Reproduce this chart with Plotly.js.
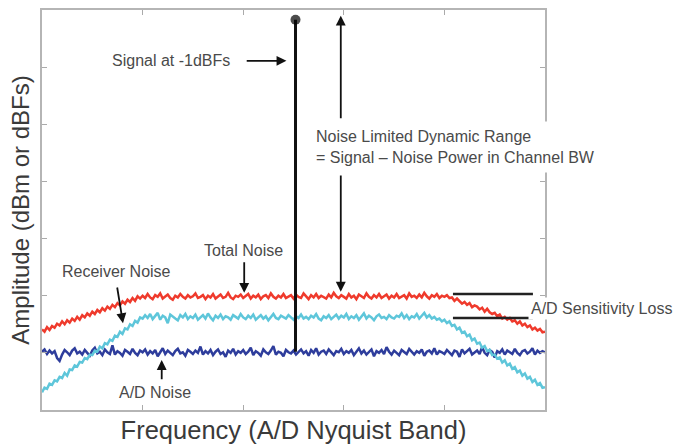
<!DOCTYPE html>
<html>
<head>
<meta charset="utf-8">
<script src="https://cdn.plot.ly/plotly-3.0.1.min.js"></script>
<style>html,body{margin:0;padding:0;background:#fff;}#chart{width:676px;height:445px;}</style>
</head>
<body>
<div id="chart"></div>
<script>
// Frequency bins across the A/D Nyquist band (arbitrary units 0..5)
const freq = [
0,0.025,0.05,0.075,0.1,0.125,0.15,0.175,0.2,0.225,0.25,0.275,0.3,0.325,0.35,0.375,0.4,0.425,0.45,0.475,
0.5,0.525,0.55,0.575,0.6,0.625,0.65,0.675,0.7,0.725,0.75,0.775,0.8,0.825,0.85,0.875,0.9,0.925,0.95,0.975,
1,1.025,1.05,1.075,1.1,1.125,1.15,1.175,1.2,1.225,1.25,1.275,1.3,1.325,1.35,1.375,1.4,1.425,1.45,1.475,
1.5,1.525,1.55,1.575,1.6,1.625,1.65,1.675,1.7,1.725,1.75,1.775,1.8,1.825,1.85,1.875,1.9,1.925,1.95,1.975,
2,2.025,2.05,2.075,2.1,2.125,2.15,2.175,2.2,2.225,2.25,2.275,2.3,2.325,2.35,2.375,2.4,2.425,2.45,2.475,
2.5,2.525,2.55,2.575,2.6,2.625,2.65,2.675,2.7,2.725,2.75,2.775,2.8,2.825,2.85,2.875,2.9,2.925,2.95,2.975,
3,3.025,3.05,3.075,3.1,3.125,3.15,3.175,3.2,3.225,3.25,3.275,3.3,3.325,3.35,3.375,3.4,3.425,3.45,3.475,
3.5,3.525,3.55,3.575,3.6,3.625,3.65,3.675,3.7,3.725,3.75,3.775,3.8,3.825,3.85,3.875,3.9,3.925,3.95,3.975,
4,4.025,4.05,4.075,4.1,4.125,4.15,4.175,4.2,4.225,4.25,4.275,4.3,4.325,4.35,4.375,4.4,4.425,4.45,4.475,
4.5,4.525,4.55,4.575,4.6,4.625,4.65,4.675,4.7,4.725,4.75,4.775,4.8,4.825,4.85,4.875,4.9,4.925,4.95,4.975,
5];

// A/D noise (blue)
const adNoise = [
1.02,1.06,0.98,1.04,0.99,1.03,0.91,0.86,0.97,1.05,1.01,0.96,1.04,1.08,0.99,1.02,0.97,1.05,1.00,0.95,
1.04,1.09,0.99,1.02,0.96,1.06,1.01,0.98,1.13,0.97,1.03,1.00,0.95,1.05,1.02,0.98,1.07,1.00,0.96,1.04,
1.01,1.06,0.97,1.03,0.99,1.05,0.94,1.02,1.08,0.98,1.04,1.00,0.96,1.03,1.07,0.99,1.01,0.95,1.05,1.02,
0.98,1.04,1.00,1.11,0.97,1.03,0.99,1.05,0.96,1.02,1.06,0.98,1.01,0.93,1.04,1.00,1.07,0.97,1.03,1.00,
1.05,0.98,1.02,1.09,0.96,1.03,1.00,0.95,1.06,1.01,0.98,1.04,1.12,0.97,1.02,1.00,0.94,1.05,1.01,0.99,
1.04,0.97,1.02,1.06,0.99,1.03,0.95,1.05,1.00,1.08,0.97,1.02,1.04,0.98,1.06,1.00,0.96,1.03,1.01,1.07,
0.98,1.03,1.00,1.05,0.96,1.02,1.08,0.99,1.04,0.97,1.01,1.06,0.94,1.03,1.00,1.05,0.98,1.10,1.02,0.97,
1.04,1.00,0.96,1.05,1.02,0.98,1.07,1.01,0.97,1.03,1.00,1.06,0.95,1.02,1.04,0.99,1.08,0.97,1.03,1.01,
0.98,1.05,1.00,0.96,1.04,1.02,0.93,1.06,0.99,1.03,1.07,0.97,1.01,1.04,0.98,1.10,1.00,0.96,1.05,1.02,
0.92,1.03,1.00,1.06,0.97,1.04,1.01,0.98,1.07,1.00,0.96,1.03,1.05,0.99,1.02,1.08,0.97,1.04,1.00,1.03,
1.01];

// Receiver noise (cyan)
const rxNoise = [
0.31,0.39,0.37,0.46,0.44,0.52,0.50,0.58,0.56,0.65,0.60,0.71,0.70,0.78,0.76,0.84,0.83,0.91,0.89,0.97,
0.96,1.04,1.02,1.11,1.08,1.17,1.15,1.23,1.21,1.30,1.28,1.37,1.33,1.43,1.41,1.50,1.47,1.56,1.53,1.62,
1.60,1.66,1.61,1.68,1.59,1.64,1.70,1.58,1.65,1.62,1.52,1.67,1.63,1.60,1.57,1.66,1.62,1.68,1.59,1.64,
1.61,1.67,1.58,1.63,1.66,1.60,1.69,1.62,1.57,1.65,1.61,1.67,1.59,1.64,1.62,1.58,1.66,1.63,1.60,1.68,
1.62,1.59,1.65,1.61,1.67,1.58,1.63,1.66,1.60,1.64,1.57,1.62,1.68,1.61,1.59,1.65,1.63,1.60,1.66,1.62,
1.58,1.64,1.61,1.67,1.60,1.63,1.59,1.65,1.62,1.68,1.60,1.57,1.64,1.61,1.66,1.59,1.63,1.67,1.60,1.65,
1.62,1.68,1.59,1.64,1.61,1.66,1.58,1.63,1.69,1.60,1.65,1.62,1.57,1.64,1.67,1.61,1.63,1.59,1.66,1.62,
1.60,1.65,1.63,1.69,1.61,1.66,1.59,1.64,1.62,1.68,1.60,1.65,1.70,1.62,1.66,1.60,1.63,1.58,1.60,1.55,
1.58,1.52,1.55,1.47,1.49,1.41,1.44,1.35,1.37,1.29,1.32,1.22,1.25,1.16,1.18,1.09,1.12,1.03,1.05,0.96,
0.97,0.90,0.92,0.83,0.87,0.78,0.81,0.72,0.75,0.66,0.69,0.60,0.64,0.55,0.58,0.49,0.53,0.44,0.47,0.39,
0.40];

// Total noise (red)
const totalNoise = [
1.41,1.37,1.45,1.40,1.47,1.44,1.51,1.48,1.55,1.50,1.57,1.53,1.60,1.56,1.63,1.58,1.66,1.62,1.69,1.65,
1.72,1.68,1.75,1.71,1.78,1.74,1.81,1.77,1.84,1.80,1.87,1.83,1.90,1.86,1.93,1.89,1.96,1.91,1.99,1.95,
2.00,1.96,2.03,1.97,1.94,2.01,1.98,2.04,1.95,1.99,2.02,1.96,1.93,2.00,1.97,2.03,1.98,1.95,2.01,1.97,
1.99,2.04,1.96,1.98,2.01,1.94,2.00,1.97,2.03,1.95,1.99,2.02,1.96,1.98,2.05,1.97,1.94,2.00,1.98,2.02,
1.96,1.99,2.03,1.95,2.00,1.97,2.02,1.94,1.99,2.01,1.96,2.04,1.98,1.95,2.00,1.97,2.03,1.96,1.99,2.01,
1.95,2.02,1.98,1.96,2.04,1.99,1.94,2.01,1.97,2.03,1.96,2.00,1.98,1.95,2.02,1.97,2.05,1.99,1.96,2.01,
1.98,1.95,2.03,1.97,2.00,1.94,2.02,1.99,1.96,2.04,1.98,1.95,2.01,1.97,2.03,1.96,1.99,2.02,1.95,2.00,
1.97,2.03,1.96,1.99,2.01,1.95,2.04,1.98,2.00,1.96,2.02,1.97,2.05,1.99,1.95,2.01,1.98,2.03,1.96,2.00,
1.98,2.01,1.96,1.97,1.91,1.95,1.90,1.86,1.89,1.84,1.87,1.80,1.83,1.81,1.76,1.79,1.72,1.77,1.71,1.68,
1.70,1.64,1.67,1.60,1.63,1.58,1.61,1.55,1.57,1.51,1.55,1.48,1.51,1.45,1.48,1.41,1.44,1.39,1.42,1.36,
1.37];

// Signal tone at -1 dBFS
const signalFreq = [2.52, 2.52];
const signalLevel = [1.02, 6.83];

const txt = '#4a4a4a';
const annFont = {family: 'Liberation Sans, Arial, sans-serif', size: 16, color: txt};

function arrow(x, y, ax, ay) {
  return {x: x, y: y, ax: ax, ay: ay, xref: 'x', yref: 'y', axref: 'x', ayref: 'y',
    text: '', showarrow: true, arrowhead: 2, arrowsize: 1.1, arrowwidth: 1.8, arrowcolor: '#111'};
}
function label(t, x, y, xa, extra) {
  return Object.assign({x: x, y: y, xref: 'x', yref: 'y', text: t, showarrow: false,
    xanchor: xa || 'center', yanchor: 'middle', font: annFont}, extra || {});
}

const traces = [
  {x: freq, y: adNoise, type: 'scatter', mode: 'lines', line: {color: '#2e3d9c', width: 2.5}, hoverinfo: 'skip'},
  {x: freq, y: rxNoise, type: 'scatter', mode: 'lines', line: {color: '#5ec6da', width: 2.5}, hoverinfo: 'skip'},
  {x: freq, y: totalNoise, type: 'scatter', mode: 'lines', line: {color: '#ef3a2c', width: 2.5}, hoverinfo: 'skip'},
  {x: signalFreq, y: signalLevel, type: 'scatter', mode: 'lines+markers',
   line: {color: '#111', width: 3}, marker: {color: '#000', size: [0, 10], line: {width: 0}}, hoverinfo: 'skip'}
];

const layout = {
  width: 676, height: 445,
  margin: {l: 42, r: 131, t: 10, b: 35},
  paper_bgcolor: '#fff', plot_bgcolor: '#fff',
  showlegend: false,
  font: {family: 'Liberation Sans, Arial, sans-serif', color: txt},
  xaxis: {
    range: [0, 5], tickvals: [1, 2, 3, 4], showticklabels: false,
    ticks: 'inside', ticklen: 5, tickcolor: '#aaa', tickwidth: 1,
    showline: true, linecolor: '#b5b5b5', linewidth: 2, mirror: 'ticks',
    showgrid: false, zeroline: false,
    title: {text: 'Frequency (A/D Nyquist Band)', font: {size: 25.5, color: '#3a3a3a'}, standoff: 10}
  },
  yaxis: {
    range: [0, 7], tickvals: [1, 2, 3, 4, 5, 6], showticklabels: false,
    ticks: 'inside', ticklen: 5, tickcolor: '#aaa', tickwidth: 1,
    showline: true, linecolor: '#b5b5b5', linewidth: 2, mirror: 'ticks',
    showgrid: false, zeroline: false,
    title: {text: 'Amplitude (dBm or dBFs)', font: {size: 24, color: '#3a3a3a'}, standoff: 4}
  },
  shapes: [
    {type: 'line', xref: 'x', yref: 'y', x0: 4.085, x1: 4.88, y0: 2.03, y1: 2.03, line: {color: '#222', width: 2.5}},
    {type: 'line', xref: 'x', yref: 'y', x0: 4.085, x1: 4.88, y0: 1.61, y1: 1.61, line: {color: '#222', width: 2.5}}
  ],
  annotations: [
    label('Signal at -1dBFs', 1.28, 6.11),
    arrow(2.43, 6.11, 2.02, 6.11),
    arrow(2.97, 6.90, 2.97, 5.08),
    arrow(2.97, 2.07, 2.97, 4.13),
    label('Noise Limited Dynamic Range<br>= Signal \u2013 Noise Power in Channel BW', 2.65, 4.60, 'left',
      {align: 'left', bgcolor: '#fff', borderpad: 6}),
    label('Total Noise', 2.00, 2.80),
    arrow(2.01, 2.05, 2.01, 2.61),
    label('Receiver Noise', 0.74, 2.42),
    arrow(0.805, 1.52, 0.745, 2.17),
    label('A/D Noise', 1.12, 0.30),
    arrow(1.19, 0.875, 1.19, 0.51),
    label('A/D Sensitivity Loss', 4.83, 1.785, 'left', {bgcolor: '#fff', borderpad: 2})
  ]
};

Plotly.newPlot('chart', traces, layout, {displayModeBar: false, staticPlot: true});
</script>
</body>
</html>
